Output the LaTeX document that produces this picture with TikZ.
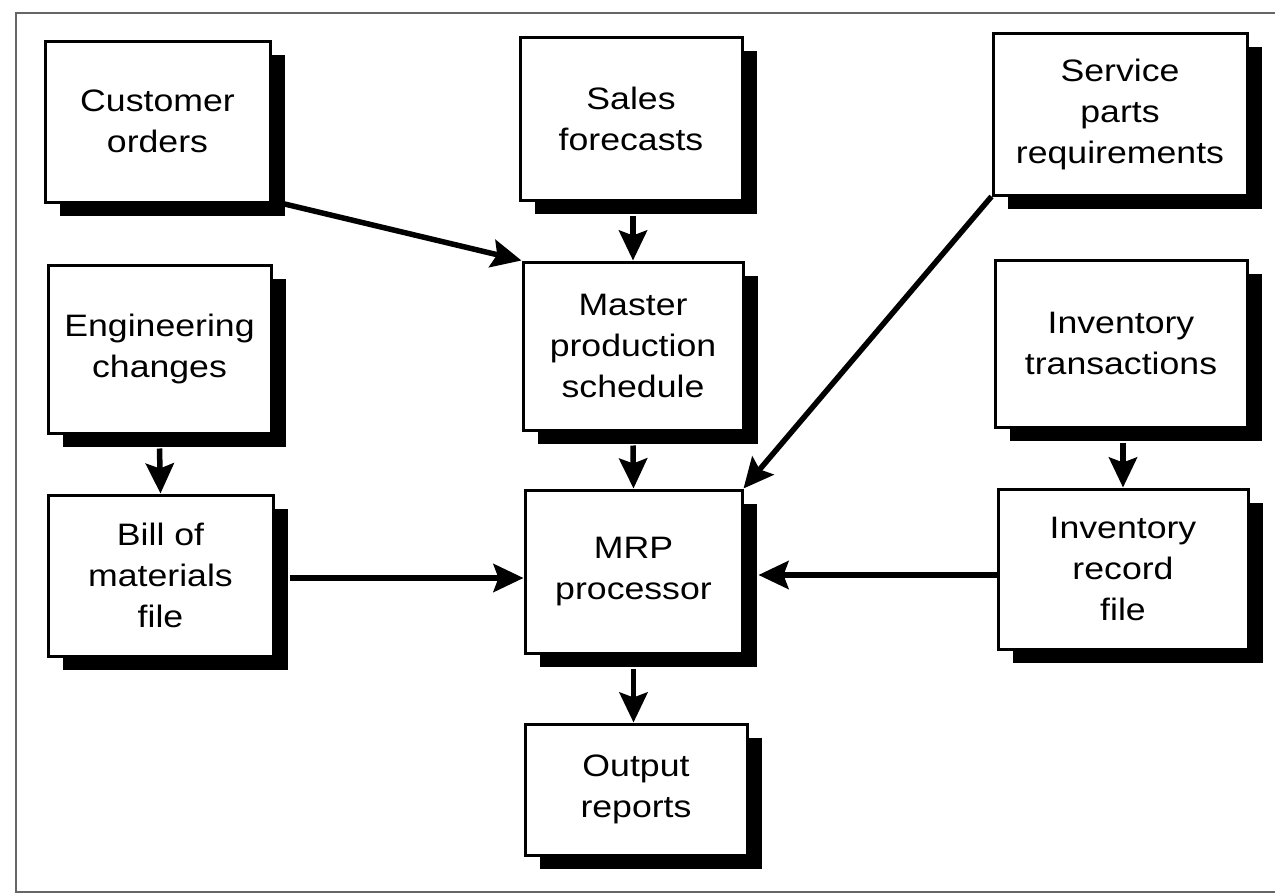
\documentclass[tikz,border=0pt]{standalone}
\usepackage{fontspec}
\setmainfont{Liberation Sans}[FakeStretch=1.15]
\usetikzlibrary{arrows.meta,shadows}

\definecolor{framegray}{gray}{0.4}

\tikzset{
  flowbox/.style={
    draw=black, line width=3pt, fill=white, inner sep=0pt,
    align=center, font=\fontsize{31}{41}\selectfont,
    general shadow={fill=black, shadow xshift=15pt, shadow yshift=-14pt}
  },
  flow/.style={
    line width=5.5pt,
    -{Stealth[length=30pt, width=28pt, inset=5pt]}
  },
  frameline/.style={draw=framegray, line width=2.5pt}
}

\begin{document}
\begin{tikzpicture}[x=1pt, y=-1pt]
  \useasboundingbox (0,0) rectangle (1275,894);

  % page frame
  \draw[frameline] (1275,13) -- (16,13) -- (16,892) -- (1275,892);

  % input boxes
  \node[flowbox, minimum width=225pt, minimum height=161pt] (cust) at (157.5,121.5) {Customer\\orders};
  \node[flowbox, minimum width=222pt, minimum height=163pt] (sales) at (631,118.5) {Sales\\forecasts};
  \node[flowbox, minimum width=254pt, minimum height=162pt] (serv) at (1120,114) {Service\\parts\\requirements};
  \node[flowbox, minimum width=223pt, minimum height=168pt] (eng) at (159.5,349) {Engineering\\changes};
  \node[flowbox, minimum width=220pt, minimum height=168pt] (mps) at (633,346) {Master\\production\\schedule};
  \node[flowbox, minimum width=252pt, minimum height=167pt] (invt) at (1121,343.5) {Inventory\\transactions};

  % files and processor
  \node[flowbox, minimum width=225pt, minimum height=161pt] (bom) at (160.5,575.5) {Bill of\\materials\\file};
  \node[flowbox, minimum width=217pt, minimum height=163pt] (mrp) at (633.5,571.5) {MRP\\processor};
  \node[flowbox, minimum width=250pt, minimum height=160pt] (invr) at (1123,569) {Inventory\\record\\file};

  % output
  \node[flowbox, minimum width=222pt, minimum height=131pt] (out) at (636,789.5) {Output\\reports};

  % connectors
  \draw[flow] ([xshift=11pt]cust.south east) -- (mps.north west);
  \draw[flow] ([yshift=-14pt]sales.south -| mps.north) -- (mps.north);
  \draw[flow] (serv.south west) -- (mrp.north east);
  \draw[flow] ([yshift=-14pt]mps.south) -- (mrp.north);
  \draw[flow] ([yshift=-14pt]eng.south) -- (bom.north);
  \draw[flow] ([xshift=15pt]bom.east |- 0,578) -- (mrp.west |- 0,578);
  \draw[flow] (invr.west |- 0,575) -- ([xshift=15pt]mrp.east |- 0,575);
  \draw[flow] ([yshift=-14pt]invt.south -| invr.north) -- (invr.north);
  \draw[flow] ([yshift=-14pt]mrp.south) -- (mrp.south |- out.north);
\end{tikzpicture}
\end{document}
